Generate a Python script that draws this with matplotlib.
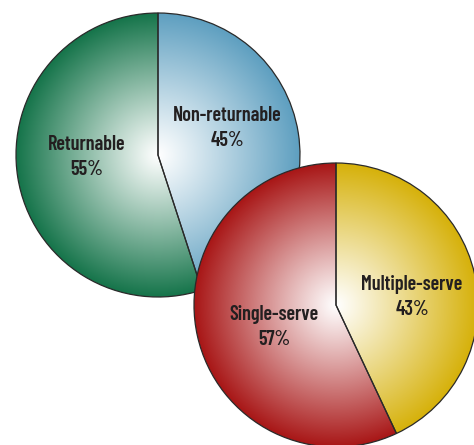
import numpy as np
import matplotlib.pyplot as plt
import matplotlib.colors as mcolors

# dados dos dois gráficos de pizza
labels_1 = ['Non-returnable', 'Returnable']
values_1 = [45, 55]
colors_1 = ['#5e9fc0', '#15744a']

labels_2 = ['Multiple-serve', 'Single-serve']
values_2 = [43, 57]
colors_2 = ['#d6b10a', '#a81616']

W, H = 474, 445
fig = plt.figure(figsize=(W / 100, H / 100), dpi=100)
ax = fig.add_axes([0, 0, 1, 1])


def pie_gradiente(ax, valores, cores, centro, raio, z):
    wedges, _ = ax.pie(valores, startangle=90, counterclock=False,
                       center=centro, radius=raio, colors=['none'] * len(valores),
                       wedgeprops=dict(edgecolor='#2a2a2a', linewidth=0.9, zorder=z + 1),
                       frame=True)
    n = 400
    xs = np.linspace(-1, 1, n)
    xx, yy = np.meshgrid(xs, xs)
    t = np.clip(np.sqrt(xx ** 2 + yy ** 2), 0, 1) ** 1.05
    for w, c in zip(wedges, cores):
        rgb = np.array(mcolors.to_rgb(c))
        img = (1 - t[..., None]) * 1.0 + t[..., None] * rgb
        im = ax.imshow(img, origin='lower', zorder=z,
                       extent=[centro[0] - raio, centro[0] + raio,
                               centro[1] - raio, centro[1] + raio])
        im.set_clip_path(w)
    return wedges


fonte = dict(family=['Barlow Condensed', 'DejaVu Sans'],
             fontweight='semibold', fontsize=14.5, color='#231f20',
             ha='center', va='center', linespacing=1.4)

c1 = (158, H - 155)
c2 = (336, H - 305)
pie_gradiente(ax, values_1, colors_1, c1, 142, 1)
pie_gradiente(ax, values_2, colors_2, c2, 142, 5)

ax.text(c1[0] + 69, c1[1] + 27, f'{labels_1[0]}\n{values_1[0]}%', zorder=10, **fonte)
ax.text(c1[0] - 71, c1[1] - 2, f'{labels_1[1]}\n{values_1[1]}%', zorder=10, **fonte)
ax.text(c2[0] + 76, c2[1] + 8, f'{labels_2[0]}\n{values_2[0]}%', zorder=10, **fonte)
ax.text(c2[0] - 62, c2[1] - 22, f'{labels_2[1]}\n{values_2[1]}%', zorder=10, **fonte)

ax.set_xlim(0, W)
ax.set_ylim(0, H)
ax.set_aspect('equal')
ax.axis('off')
fig.savefig('out.png', dpi=100)
